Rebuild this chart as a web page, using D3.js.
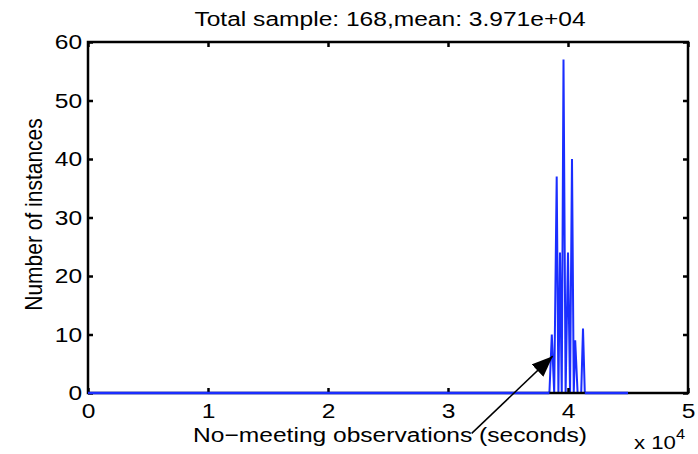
<!DOCTYPE html>
<html>
<head>
<meta charset="utf-8">
<script src="https://cdn.jsdelivr.net/npm/d3@7"></script>
<style>
html,body{margin:0;padding:0;background:#fff;}
svg{display:block;font-family:"Liberation Sans",Arial,sans-serif;}
</style>
</head>
<body>
<svg id="chart" width="698" height="454"></svg>
<script>
// Data: histogram of no-meeting observations (seconds) -> counts
const binCenters = [0, 38450, 38650, 38850, 39058, 39200, 39333, 39480, 39625, 39800, 40000, 40170, 40333, 40480, 40600, 40800, 41100, 41250, 41400, 45000];
const counts     = [0,     0,    10,     0,    37,     0,    24,     0,    57,     0,    24,     0,    40,     0,     9,     0,     0,    11,     0,     0];
const xTicks = [0, 1, 2, 3, 4, 5];
const yTicks = [0, 10, 20, 30, 40, 50, 60];
const titleText = "Total sample: 168,mean: 3.971e+04";
const xLabel = "No\u2212meeting observations (seconds)";
const yLabel = "Number of instances";
const arrowFrom = [31975, -6.9];
const arrowTo = [38725, 6.3];

const svg = d3.select("#chart");
const L = 88, R = 688, T = 42, B = 393;
const SX = 1.17; // horizontal stretch of the text in the reference
const x = d3.scaleLinear().domain([0, 50000]).range([L, R]);
const y = d3.scaleLinear().domain([0, 60]).range([B, T]);
const blue = "#1a2eff";

const data = binCenters.map((b, i) => [b, counts[i]]);

// data line
svg.append("path")
  .datum(data)
  .attr("fill", "none")
  .attr("stroke", blue)
  .attr("stroke-width", 2)
  .attr("d", d3.line().x(d => x(d[0])).y(d => y(d[1])));

// axes
const g = svg.append("g");
const tickLen = 5;
g.append("g").attr("transform", `translate(0,${B})`)
  .call(d3.axisBottom(x).tickValues(xTicks.map(v => v * 10000)).tickSize(-tickLen).tickSizeOuter(0).tickPadding(10).tickFormat(d => d / 10000))
  .call(s => s.select(".domain").remove());
g.append("g").attr("transform", `translate(0,${T})`)
  .call(d3.axisTop(x).tickValues(xTicks.map(v => v * 10000)).tickSize(-tickLen).tickSizeOuter(0).tickFormat(""))
  .call(s => s.select(".domain").remove());
g.append("g").attr("transform", `translate(${L},0)`)
  .call(d3.axisLeft(y).tickValues(yTicks).tickSize(-tickLen).tickSizeOuter(0).tickPadding(5))
  .call(s => s.select(".domain").remove());
g.append("g").attr("transform", `translate(${R},0)`)
  .call(d3.axisRight(y).tickValues(yTicks).tickSize(-tickLen).tickSizeOuter(0).tickFormat(""))
  .call(s => s.select(".domain").remove());
g.selectAll(".tick line").attr("stroke", "#000").attr("stroke-width", 2.5);
g.selectAll(".tick text").attr("fill", "#000")
  .style("font-size", "21px").style("font-family", "'Liberation Sans',Arial,sans-serif")
  .attr("transform", `scale(${SX},1)`);

// frame
svg.append("rect").attr("x", L).attr("y", T).attr("width", R - L).attr("height", B - T)
  .attr("fill", "none").attr("stroke", "#000").attr("stroke-width", 2.5);

// blue baseline over frame bottom where the series lies at zero
svg.append("line")
  .attr("x1", x(binCenters[0])).attr("x2", x(binCenters[1]))
  .attr("y1", y(0)).attr("y2", y(0))
  .attr("stroke", blue).attr("stroke-width", 2.5);
svg.append("line")
  .attr("x1", x(binCenters[binCenters.length - 2])).attr("x2", x(binCenters[binCenters.length - 1]))
  .attr("y1", y(0)).attr("y2", y(0))
  .attr("stroke", blue).attr("stroke-width", 2.5);

// title
svg.append("text").attr("transform", `translate(${(L + R) / 2 + 2},26) scale(${SX},1)`).attr("text-anchor", "middle")
  .style("font-size", "21px").text(titleText);
// x label
svg.append("text").attr("transform", `translate(${(L + R) / 2 + 2},442) scale(${SX},1)`).attr("text-anchor", "middle")
  .style("font-size", "21px").text(xLabel);
// x multiplier
const mult = svg.append("text").attr("transform", `translate(634,449) scale(${SX},1)`).style("font-size", "19px");
mult.append("tspan").text("x 10");
mult.append("tspan").attr("dy", -10).style("font-size", "14px").text("4");
// y label
svg.append("text").attr("transform", `translate(42,${(T + B) / 2 - 3}) scale(${SX},1) rotate(-90)`).attr("text-anchor", "middle")
  .style("font-size", "21px").text(yLabel);

// annotation arrow
svg.append("defs").append("marker").attr("id", "ah").attr("viewBox", "0 0 10 10")
  .attr("refX", 10).attr("refY", 5).attr("markerWidth", 21).attr("markerHeight", 17)
  .attr("markerUnits", "userSpaceOnUse").attr("orient", "auto").attr("preserveAspectRatio", "none")
  .append("path").attr("d", "M0,0 L10,5 L0,10 Z").attr("fill", "#000");
svg.append("line")
  .attr("x1", x(arrowFrom[0])).attr("y1", y(arrowFrom[1]))
  .attr("x2", x(arrowTo[0])).attr("y2", y(arrowTo[1]))
  .attr("stroke", "#000").attr("stroke-width", 1.5).attr("marker-end", "url(#ah)");
</script>
</body>
</html>
